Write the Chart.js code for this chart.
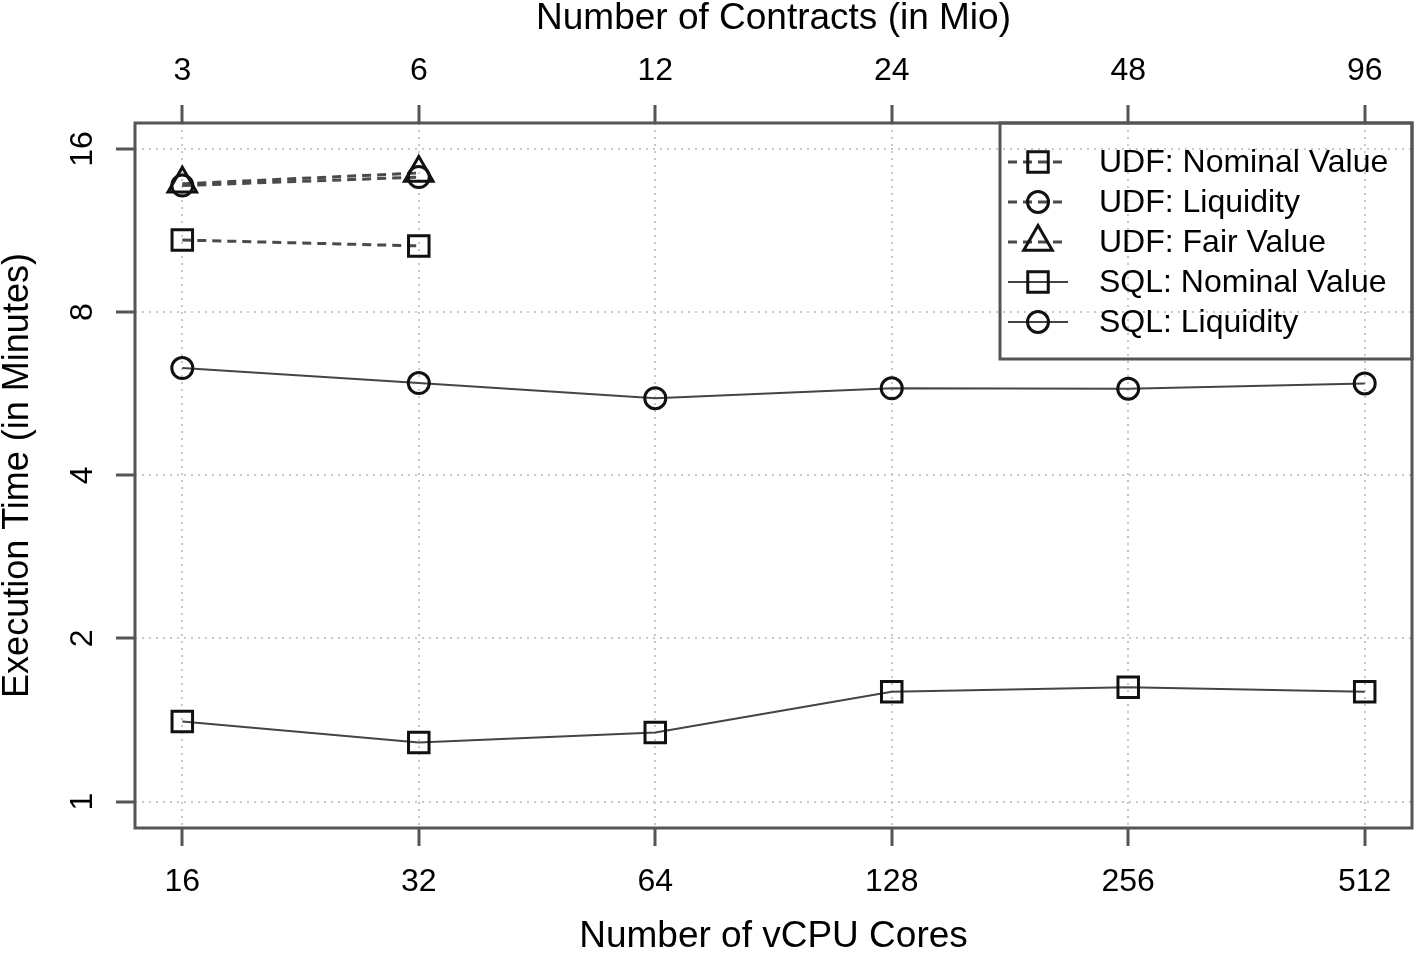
<!DOCTYPE html>
<html>
<head>
<meta charset="utf-8">
<script src="https://cdn.jsdelivr.net/npm/chart.js@4.4.0/dist/chart.umd.min.js"></script>
<style>
  html, body { margin: 0; padding: 0; background: #fff; overflow: hidden; }
  canvas { display: block; }
</style>
</head>
<body>
<canvas id="myChart" width="1418" height="955"></canvas>
<script>
const cores = [16, 32, 64, 128, 256, 512];
const contracts = [3, 6, 12, 24, 48, 96];
const yTicks = [1, 2, 4, 8, 16];

// execution time in minutes
const udfNominal = [10.87, 10.6];
const udfLiquidity = [13.7, 14.2];
const udfFair = [13.8, 14.45];
const sqlNominal = [1.405, 1.285, 1.341, 1.595, 1.626, 1.595];
const sqlLiquidity = [6.31, 5.92, 5.55, 5.79, 5.78, 5.91];

const FONT = "'Liberation Sans', Arial, Helvetica, sans-serif";
const TEXT = "#000";

const toPoints = function (values) {
  return values.map((v, i) => ({ x: i, y: v }));
};

const udfLine = { borderColor: "#4a4a4a", borderWidth: 3, borderDash: [9, 6] };
const sqlLine = { borderColor: "#444", borderWidth: 2, borderDash: [] };

const makeSet = function (label, values, style, pointStyle, radius) {
  return Object.assign({
    label: label,
    data: toPoints(values),
    pointStyle: pointStyle,
    pointRadius: radius,
    pointBorderColor: "#111",
    pointBackgroundColor: "rgba(0,0,0,0)",
    pointBorderWidth: 3,
    tension: 0,
    fill: false,
  }, style);
};

const datasets = [
  makeSet("UDF: Nominal Value", udfNominal, udfLine, "rect", 14.5),
  makeSet("UDF: Liquidity", udfLiquidity, udfLine, "circle", 10.5),
  makeSet("UDF: Fair Value", udfFair, udfLine, "triangle", 16.5),
  makeSet("SQL: Nominal Value", sqlNominal, sqlLine, "rect", 14.5),
  makeSet("SQL: Liquidity", sqlLiquidity, sqlLine, "circle", 10.5),
];

// box round the plot and the legend inside its top right corner
const boxLegend = {
  id: "boxLegend",
  afterDraw(chart) {
    const ctx = chart.ctx;
    const area = chart.chartArea;
    ctx.save();
    ctx.setLineDash([]);
    ctx.strokeStyle = "#555";
    ctx.lineWidth = 3;
    ctx.strokeRect(area.left, area.top, area.right - area.left, area.bottom - area.top);

    const left = area.right - 412;
    const top = area.top;
    ctx.strokeRect(left, top, area.right - left, 236);

    chart.data.datasets.forEach((ds, i) => {
      const y = top + 39 + i * 40;
      ctx.setLineDash(ds.borderDash);
      ctx.strokeStyle = ds.borderColor;
      ctx.lineWidth = ds.borderWidth;
      ctx.beginPath();
      ctx.moveTo(left + 8, y);
      ctx.lineTo(left + 68, y);
      ctx.stroke();

      ctx.setLineDash([]);
      ctx.strokeStyle = ds.pointBorderColor;
      ctx.fillStyle = "rgba(0,0,0,0)";
      ctx.lineWidth = ds.pointBorderWidth;
      Chart.helpers.drawPoint(ctx, {
        pointStyle: ds.pointStyle,
        radius: ds.pointRadius,
        rotation: 0,
        borderWidth: ds.pointBorderWidth,
      }, left + 38, y);

      ctx.fillStyle = TEXT;
      ctx.font = "32px " + FONT;
      ctx.textBaseline = "middle";
      ctx.textAlign = "left";
      ctx.fillText(ds.label, left + 99, y + 1);
    });
    ctx.restore();
  },
};

const gridOpts = {
  color: "#c8c8c8",
  lineWidth: 2,
  tickLength: 18,
  tickColor: "#555",
  tickWidth: 3,
  tickBorderDash: [],
};

const config = {
  type: "line",
  data: { datasets: datasets },
  options: {
    responsive: false,
    animation: false,
    devicePixelRatio: 1,
    layout: { autoPadding: false, padding: { left: 0, right: 6, top: 0, bottom: 0 } },
    plugins: {
      legend: { display: false },
      tooltip: { enabled: false },
    },
    scales: {
      x: {
        type: "linear",
        position: "bottom",
        min: -0.2,
        max: 5.2,
        afterBuildTicks: (scale) => {
          scale.ticks = cores.map((c, i) => ({ value: i }));
        },
        afterFit: (scale) => { scale.height = 127; },
        ticks: {
          callback: (value, index) => cores[index],
          color: TEXT,
          font: { family: FONT, size: 32 },
          padding: 17,
          maxRotation: 0,
          autoSkip: false,
        },
        grid: gridOpts,
        border: { display: false, dash: [2, 5] },
        title: {
          display: true,
          text: "Number of vCPU Cores",
          color: TEXT,
          font: { family: FONT, size: 37, lineHeight: 1 },
          padding: { top: 0, bottom: 0 },
        },
      },
      x2: {
        type: "linear",
        position: "top",
        min: -0.2,
        max: 5.2,
        afterBuildTicks: (scale) => {
          scale.ticks = contracts.map((c, i) => ({ value: i }));
        },
        afterFit: (scale) => { scale.height = 123; },
        ticks: {
          callback: (value, index) => contracts[index],
          color: TEXT,
          font: { family: FONT, size: 32 },
          padding: 15,
          maxRotation: 0,
          autoSkip: false,
        },
        grid: Object.assign({}, gridOpts, { drawOnChartArea: false }),
        border: { display: false },
        title: {
          display: true,
          text: "Number of Contracts (in Mio)",
          color: TEXT,
          font: { family: FONT, size: 37, lineHeight: 1 },
          padding: { top: 0, bottom: 0 },
        },
      },
      y: {
        type: "logarithmic",
        position: "left",
        min: 0.894,
        max: 17.87,
        afterBuildTicks: (scale) => {
          scale.ticks = yTicks.map((v) => ({ value: v }));
        },
        afterFit: (scale) => { scale.width = 135; },
        ticks: {
          callback: (value) => String(value),
          color: TEXT,
          font: { family: FONT, size: 32 },
          padding: 15,
          minRotation: 90,
          maxRotation: 90,
          crossAlign: "center",
          autoSkip: false,
        },
        grid: Object.assign({}, gridOpts, { tickLength: 19 }),
        border: { display: false, dash: [2, 5] },
        title: {
          display: true,
          text: "Execution Time (in Minutes)",
          color: TEXT,
          font: { family: FONT, size: 36, lineHeight: 1 },
          padding: { top: 0, bottom: 0 },
        },
      },
    },
  },
  plugins: [boxLegend],
};

const myChart = new Chart(document.getElementById("myChart"), config);
</script>
</body>
</html>
